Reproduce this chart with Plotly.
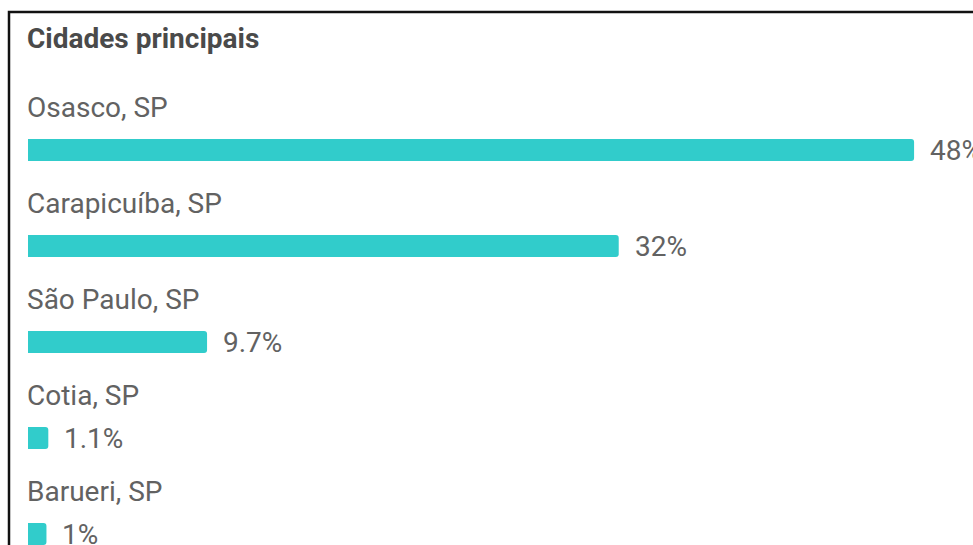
import plotly.graph_objects as go

# Share of visits by city (%)
cities = ["Osasco, SP", "Carapicuíba, SP", "São Paulo, SP", "Cotia, SP", "Barueri, SP"]
shares = [48, 32, 9.7, 1.1, 1]
share_labels = ["48%", "32%", "9.7%", "1.1%", "1%"]

W, H = 973, 545
BAR_COLOR = "#31CCCB"
TEXT_COLOR = "#626262"
TITLE_COLOR = "#4a4a4a"
FONT = "Roboto"

# pixel layout of the card
x0_px = 28          # left edge of the bars
px_per_pct = 18.46  # horizontal scale
first_px = 150      # centre of the first bar
step_px = 96        # distance between bars
bar_px = 22         # bar thickness

idx = list(range(len(cities)))

fig = go.Figure(
    go.Bar(
        x=shares,
        y=idx,
        orientation="h",
        marker=dict(color=BAR_COLOR, line=dict(width=0)),
        width=bar_px / step_px,
        hoverinfo="skip",
    )
)

annotations = [
    dict(
        text="<b>Cidades principais</b>",
        xref="paper", yref="paper",
        x=x0_px / W, y=1 - 38 / H,
        xanchor="left", yanchor="middle", xshift=-3,
        showarrow=False,
        font=dict(family=FONT, size=28, color=TITLE_COLOR),
    )
]
for i, (city, val, lab) in enumerate(zip(cities, shares, share_labels)):
    annotations.append(dict(
        text=city, x=0, y=i, xref="x", yref="y",
        xanchor="left", yanchor="middle", yshift=43, xshift=-3,
        showarrow=False,
        font=dict(family=FONT, size=28, color=TEXT_COLOR),
    ))
    annotations.append(dict(
        text=lab, x=val, y=i, xref="x", yref="y",
        xanchor="left", yanchor="middle", xshift=14,
        showarrow=False,
        font=dict(family=FONT, size=28, color=TEXT_COLOR),
    ))

# card border (left and top edges)
bx, by = 9 / W, 1 - 12 / H
shapes = [dict(
    type="path", xref="paper", yref="paper",
    path=f"M {bx} 0 L {bx} {by} L 1.01 {by}",
    line=dict(color="#111111", width=2.5),
)]

fig.update_layout(
    width=W, height=H,
    margin=dict(l=0, r=0, t=0, b=0),
    paper_bgcolor="white", plot_bgcolor="white",
    showlegend=False,
    barcornerradius=3,
    xaxis=dict(
        range=[-x0_px / px_per_pct, (W - x0_px) / px_per_pct],
        visible=False, fixedrange=True,
    ),
    yaxis=dict(
        range=[(H - first_px) / step_px, -first_px / step_px],
        visible=False, fixedrange=True,
    ),
    annotations=annotations,
    shapes=shapes,
)

fig.write_html("out.html", config={"displayModeBar": False})
